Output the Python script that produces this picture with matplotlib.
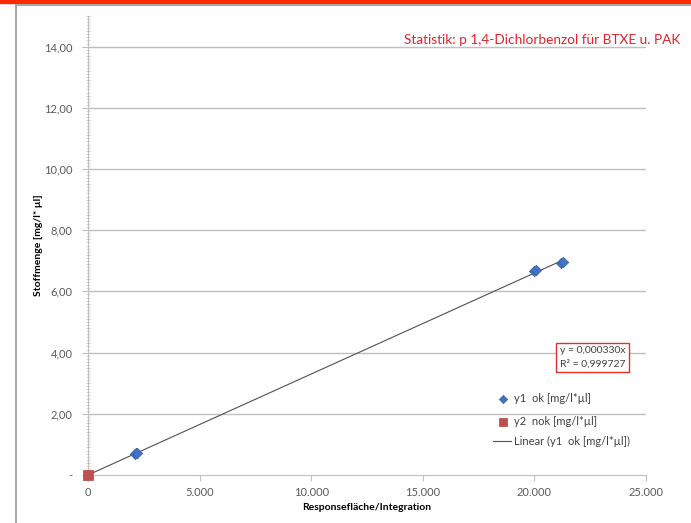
import matplotlib
matplotlib.use("Agg")
import matplotlib.pyplot as plt
from matplotlib.lines import Line2D
from matplotlib.patches import Rectangle
from matplotlib.ticker import MultipleLocator
import numpy as np

plt.rcParams['font.family'] = ['Lato', 'DejaVu Sans']

# calibration points (response area vs. amount)
y1_x = [2120, 2160, 2200, 19980, 20080, 21180, 21280]
y1_y = [0.70, 0.71, 0.72, 6.68, 6.71, 6.94, 6.97]
y2_x = [0]
y2_y = [0.0]
slope = 0.000330
r2 = 0.999727

y_ticks = [0, 2, 4, 6, 8, 10, 12, 14]
y_ticklabels = ["-", "2,00", "4,00", "6,00", "8,00", "10,00", "12,00", "14,00"]
x_ticks = [0, 5000, 10000, 15000, 20000, 25000]
x_ticklabels = ["0", "5.000", "10.000", "15.000", "20.000", "25.000"]

title = "Statistik: p 1,4-Dichlorbenzol für BTXE u. PAK"
lbl_y1 = "y1  ok [mg/l*µl]"
lbl_y2 = "y2  nok [mg/l*µl]"
lbl_fit = "Linear (y1  ok [mg/l*µl])"

W, H = 691, 523
fig = plt.figure(figsize=(W / 100, H / 100), dpi=100)

# chart frame: red band on top, grey border
fig.patches.append(Rectangle((0, 1 - 3 / H), 1, 3 / H, transform=fig.transFigure,
                             color='#ff2a00', zorder=0))
fig.lines.append(Line2D([16 / W, 1], [1 - 5 / H, 1 - 5 / H], transform=fig.transFigure,
                        color='#a6a6a6', lw=1.4))
fig.lines.append(Line2D([16 / W, 16 / W], [0, 1 - 5 / H], transform=fig.transFigure,
                        color='#a6a6a6', lw=1.4))

ax = fig.add_axes([88 / W, 48 / H, 558 / W, 459 / H])
ax.set_xlim(0, 25000)
ax.set_ylim(0, 15)

ax.set_yticks(y_ticks)
ax.set_yticklabels(y_ticklabels)
ax.yaxis.set_minor_locator(MultipleLocator(0.1))
ax.set_xticks(x_ticks)
ax.set_xticklabels(x_ticklabels)

for g in y_ticks[1:]:
    ax.axhline(g, color='#bfbfbf', lw=1.0, zorder=1)

for s in ['top', 'right']:
    ax.spines[s].set_visible(False)
ax.spines['left'].set_color('#bfbfbf')
ax.spines['bottom'].set_color('#bfbfbf')

ax.tick_params(axis='y', which='major', direction='out', length=4, color='#bfbfbf',
               labelsize=8, labelcolor='#595959', pad=7)
ax.tick_params(axis='y', which='minor', direction='inout', length=3, color='#c8c8c8', width=0.5)
ax.tick_params(axis='x', which='major', direction='out', length=4, color='#bfbfbf',
               labelsize=8, labelcolor='#595959', pad=5)

# trend line through origin
xf = np.array([0, max(y1_x)])
fit_line, = ax.plot(xf, slope * xf, color='#505050', lw=0.8, zorder=3)

sc1 = ax.scatter(y1_x, y1_y, marker='D', s=28, color='#4472c4', edgecolors='#3a62a8',
                 linewidths=0.5, zorder=4)
sc2 = ax.scatter(y2_x, y2_y, marker='s', s=55, color='#c0504d', edgecolors='#a94442',
                 linewidths=0.5, zorder=5, clip_on=False)

ax.set_xlabel("Responsefläche/Integration", fontsize=7.5, fontweight='bold', labelpad=3)
ax.set_ylabel("Stoffmenge [mg/l* µl]", fontsize=7.5, fontweight='bold', labelpad=1)

ax.text(0.846, 0.28, "y = 0,000330x\nR² = %s" % ("%.6f" % r2).replace('.', ','),
        transform=ax.transAxes, fontsize=7.5, color='#404040', va='top', ha='left',
        linespacing=1.5, zorder=6,
        bbox=dict(boxstyle='square,pad=0.35', fc='white', ec='#e03030', lw=1.0))

# markers and trend line entries sit a little apart, as in the spreadsheet legend
leg1 = ax.legend([sc1, sc2], [lbl_y1, lbl_y2], loc='upper left',
                 bbox_to_anchor=(0.72, 0.196), frameon=False, fontsize=8,
                 labelcolor='#404040', handlelength=1.0, handletextpad=0.5,
                 labelspacing=1.1, markerscale=0.8, borderpad=0.2)
ax.add_artist(leg1)
ax.legend([fit_line], [lbl_fit], loc='upper left', bbox_to_anchor=(0.712, 0.102),
          frameon=False, fontsize=8, labelcolor='#404040', handlelength=1.6,
          handletextpad=0.3, borderpad=0.2)

fig.text(680 / W, 1 - 40 / H, title, color='#e8202a', fontsize=9.8, ha='right', va='center')

fig.savefig("out.png", dpi=100)
